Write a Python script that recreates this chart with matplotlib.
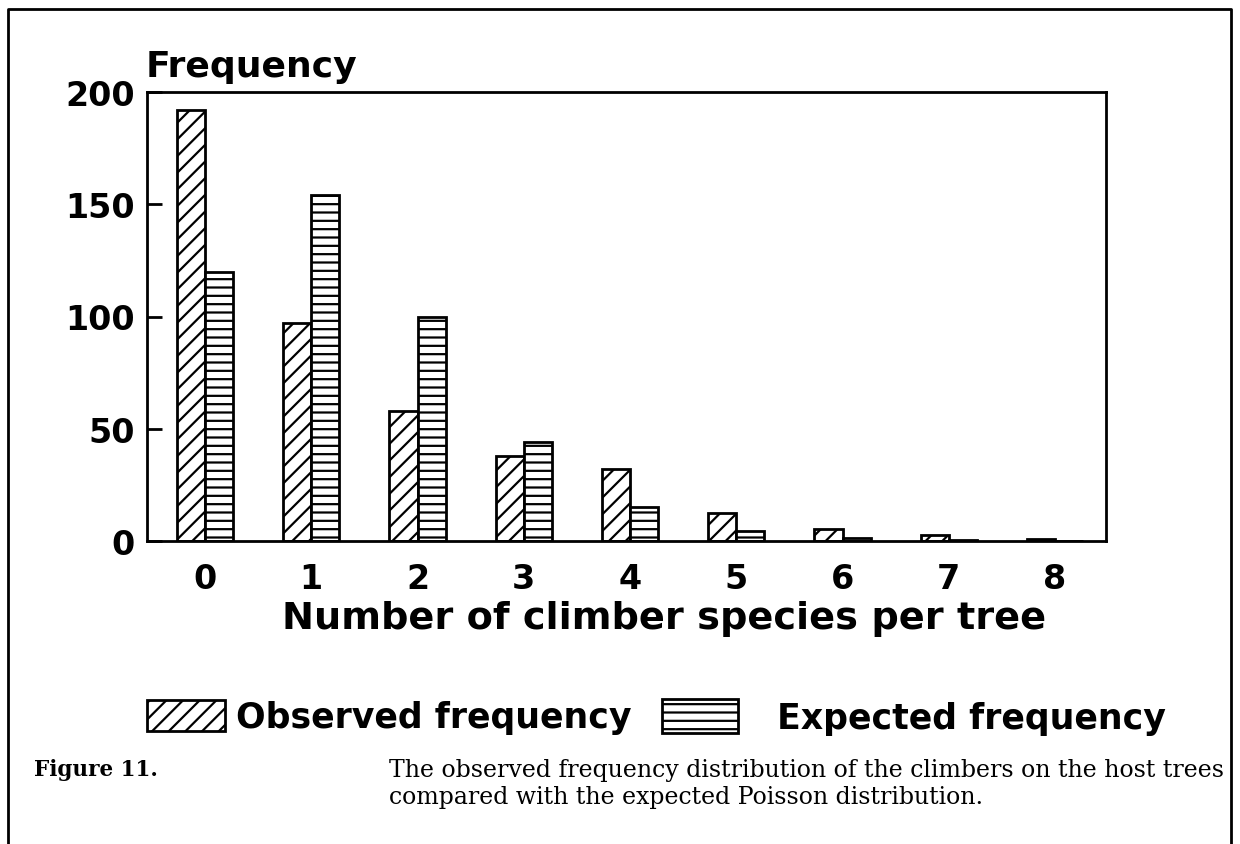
import numpy as np
import matplotlib
matplotlib.use("Agg")
import matplotlib.pyplot as plt
from matplotlib.lines import Line2D

# data
climbers = [0, 1, 2, 3, 4, 5, 6, 7, 8]
observed = [192, 97, 58, 38, 32, 12.5, 5.5, 2.5, 1]
expected = [120, 154, 100, 44, 15, 4.5, 1.5, 0.5, 0.2]

plt.rcParams['font.family'] = ['DejaVu Sans']
plt.rcParams['font.weight'] = 'bold'
plt.rcParams['hatch.linewidth'] = 1.6

fig = plt.figure(figsize=(12.4, 8.45), dpi=100)
ax = fig.add_axes([147/1240, 1-542/845, (1106-147)/1240, (542-93)/845])

x = np.array(climbers)
w = 0.265
b_obs = ax.bar(x - w/2, observed, width=w, facecolor='white', edgecolor='black',
               hatch='//', linewidth=2, label='Observed frequency')
b_exp = ax.bar(x + w/2, expected, width=w, facecolor='white', edgecolor='black',
               hatch='--', linewidth=2, label='Expected frequency')

ax.set_xlim(-0.546, 8.48)
ax.set_ylim(0, 200)
ax.set_yticks([0, 50, 100, 150, 200])
ax.set_xticks(climbers)
ax.tick_params(axis='y', direction='in', length=11, width=2, pad=9, labelsize=24)
ax.tick_params(axis='x', length=0, pad=15, labelsize=24)
for s in ax.spines.values():
    s.set_linewidth(2)

fig.text(146/1240, 1-77/845, 'Frequency', fontsize=26, fontweight='bold',
         ha='left', va='baseline')
fig.text(664/1240, 1-629/845, 'Number of climber species per tree', fontsize=27.5,
         fontweight='bold', ha='center', va='baseline')

# two separate legend entries, as in the original layout
leg1 = fig.legend(handles=[b_obs], loc='center left', bbox_to_anchor=(147/1240, 1-718/845),
                  frameon=False, fontsize=25, handlelength=2.25, handleheight=1.0,
                  handletextpad=0.3, borderpad=0, borderaxespad=0)
leg2 = fig.legend(handles=[b_exp], loc='center left', bbox_to_anchor=(662/1240, 1-718/845),
                  frameon=False, fontsize=25, handlelength=2.2, handleheight=1.1,
                  handletextpad=1.1, borderpad=0, borderaxespad=0)

fig.text(34/1240, 1-770/845, 'Figure 11.', fontsize=15.5, fontweight='bold',
         family='DejaVu Serif', ha='left', va='center')
fig.text(389/1240, 1-784/845,
         'The observed frequency distribution of the climbers on the host trees\n'
         'compared with the expected Poisson distribution.',
         fontsize=17, fontweight='normal', family='DejaVu Serif', ha='left', va='center',
         linespacing=1.2)

# page frame
fig.add_artist(Line2D([8/1240, 8/1240, 1231/1240, 1231/1240], [0, 1-10/845, 1-10/845, 0],
                      transform=fig.transFigure, color='black', linewidth=2))

fig.savefig('out.png', dpi=100)
